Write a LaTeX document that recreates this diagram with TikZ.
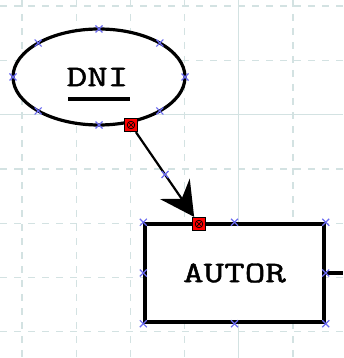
\documentclass[tikz,border=0pt]{standalone}
\usepackage{fontspec}
\newfontfamily\lblfont{Latin Modern Mono}[FakeBold=1.3]
\usetikzlibrary{arrows.meta,shapes.geometric,calc}
\definecolor{gridc}{HTML}{D3E2E2}
\definecolor{markc}{HTML}{6A6AF0}
\newcommand{\wide}[1]{\scalebox{1.33}[1]{#1}}
\tikzset{
  labelfont/.style={font=\lblfont\fontsize{30}{30}\selectfont},
  gridline/.style={gridc, line width=1.2pt, dash pattern=on 7pt off 7pt},
  gridsolid/.style={gridc, line width=1.2pt},
  entity/.style={draw, line width=3.4pt, fill=white, minimum width=179pt, minimum height=98pt, inner sep=0pt, labelfont},
  attrib/.style={draw, ellipse, line width=3.2pt, fill=white, minimum width=172pt, minimum height=96pt, inner sep=0pt},
  handle/.style={draw=black, line width=1.2pt, fill=red, minimum size=13pt, inner sep=0pt},
  conn/.style={line width=2.2pt},
  xmarkstyle/.style={markc, line width=1.2pt}
}
\newcommand{\xmk}[1]{\draw[xmarkstyle] ($(#1)+(-3.5,-3.5)$) -- ($(#1)+(3.5,3.5)$) ($(#1)+(-3.5,3.5)$) -- ($(#1)+(3.5,-3.5)$);}
\begin{document}
\begin{tikzpicture}[x=1pt,y=-1pt]
\useasboundingbox (0,0) rectangle (343,358);
% grid
\foreach \gx in {22,76.2,130.4,184.6,293} \draw[gridline] (\gx,0) -- (\gx,358);
\draw[gridsolid] (238.8,0) -- (238.8,358);
\foreach \gy in {6,60.3,168.9,223.2,277.5,331.8} \draw[gridline] (0,\gy) -- (343,\gy);
\draw[gridsolid] (0,114.6) -- (343,114.6);
% shapes
\node[attrib] (dni) at (99,77) {};
\node[labelfont, inner sep=0pt] (dnit) at (97.5,77) {\wide{DNI}};
\draw[line width=4pt] (68,99) -- (130,99);
\node[entity] (autor) at (234.5,273) {\wide{AUTOR}};
\coordinate (stub) at (343,273);
\draw[line width=3.4pt] (autor.east) -- (stub);
% handles
\node[handle] (h1) at (131,125) {};
\node[handle] (h2) at (199,224) {};
\draw[conn, -{Stealth[length=34pt,width=36pt,inset=12pt]}] (h1) -- (h2);
\foreach \h in {h1,h2}{
  \draw[line width=0.7pt] (\h.center) circle (3.8pt);
  \draw[line width=0.7pt] ($(\h.center)+(-2.6,-2.6)$) -- ($(\h.center)+(2.6,2.6)$) ($(\h.center)+(-2.6,2.6)$) -- ($(\h.center)+(2.6,-2.6)$);
}
% markers
\foreach \a in {0,45,...,315}{
  \coordinate (em) at ($(99,77)+({86*cos(\a)},{48*sin(\a)})$);
  \xmk{em}
}
\foreach \p in {north west,north,north east,east,south east,south,south west,west}{
  \xmk{autor.\p}
}
\coordinate (lm) at ($(h1)!0.5!(h2)$);
\xmk{lm}
\end{tikzpicture}
\end{document}
